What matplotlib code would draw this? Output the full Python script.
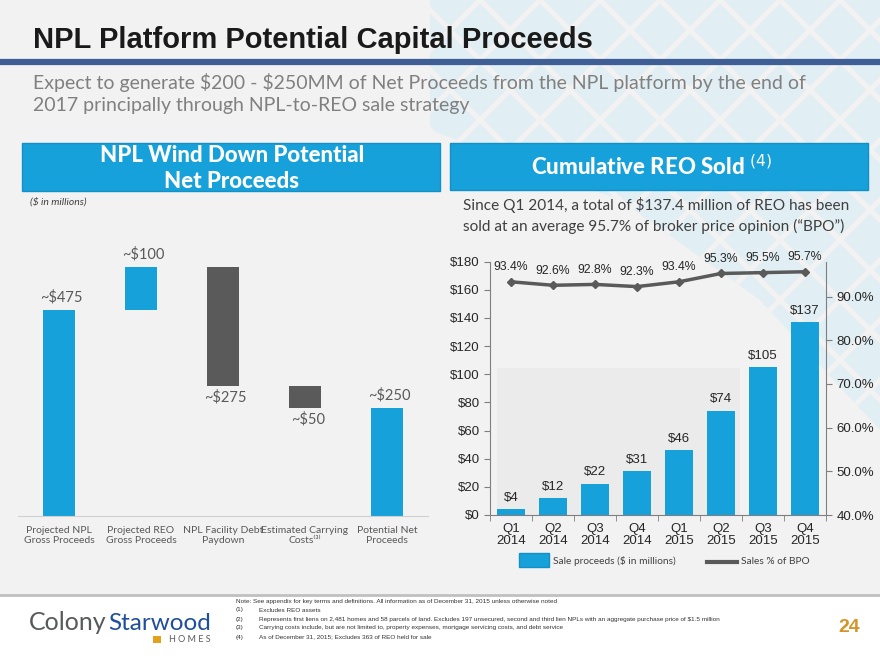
import matplotlib.pyplot as plt
import matplotlib.patches as mpatches
from matplotlib.ticker import FuncFormatter, MultipleLocator
import numpy as np

# ---- data ----
wf_categories = ["Projected NPL\nGross Proceeds", "Projected REO\nGross Proceeds",
                 "NPL Facility Debt\nPaydown", "Estimated Carrying\nCosts\u207d\u00b3\u207e",
                 "Potential Net\nProceeds"]
wf_amounts = [475, 100, -275, -50, 250]
wf_labels = ["~$475", "~$100", "~$275", "~$50", "~$250"]
wf_is_total = [False, False, False, False, True]

quarters = ["Q1\n2014", "Q2\n2014", "Q3\n2014", "Q4\n2014",
            "Q1\n2015", "Q2\n2015", "Q3\n2015", "Q4\n2015"]
reo_sold = [4, 12, 22, 31, 46, 74, 105, 137]
bpo_pct = [93.4, 92.6, 92.8, 92.3, 93.4, 95.3, 95.5, 95.7]

notes = [
    ("", "Note: See appendix for key terms and definitions. All information as of December 31, 2015 unless otherwise noted"),
    ("(1)", "Excludes REO assets"),
    ("(2)", "Represents first liens on 2,481 homes and 58 parcels of land. Excludes 197 unsecured, second and third lien NPLs with an aggregate purchase price of \\$1.5 million"),
    ("(3)", "Carrying costs include, but are not limited to, property expenses, mortgage servicing costs, and debt service"),
    ("(4)", "As of December 31, 2015; Excludes 363 of REO held for sale"),
]

BLUE = "#16a1da"
DARK = "#5a5a5a"
BG = "#f2f2f2"
W, H = 880, 660

fig = plt.figure(figsize=(8.8, 6.6), dpi=100)
fig.patch.set_facecolor(BG)

# background overlay in pixel coordinates
bg = fig.add_axes([0, 0, 1, 1], zorder=0)
bg.set_xlim(0, W)
bg.set_ylim(H, 0)
bg.axis("off")

# faint diamond lattice in the top right
clip = mpatches.Polygon([(430, 0), (880, 0), (880, 430), (760, 300), (620, 200), (430, 130)],
                        closed=True, transform=bg.transData, facecolor="none", edgecolor="none")
bg.add_patch(clip)
fill = mpatches.Polygon(clip.get_xy(), closed=True, facecolor="#e1eef3", edgecolor="none", zorder=0)
bg.add_patch(fill)
for c in np.arange(-900, 1800, 60):
    for sgn in (1, -1):
        ln, = bg.plot([c, c + sgn * 700], [0, 700], color=BG, lw=3.8, zorder=1)
        ln.set_clip_path(clip)

# chart watermark box
bg.add_patch(mpatches.Rectangle((497, 368), 243, 147, facecolor="#ebebeb", edgecolor="none", zorder=1))

# title and rule
bg.text(33, 40, "NPL Platform Potential Capital Proceeds", fontsize=21, fontweight="bold",
        family="Liberation Sans", color="#1a1a1a", va="center", ha="left", zorder=3)
bg.plot([0, W], [62, 62], color="#3f5e95", lw=4.5, zorder=3, solid_capstyle="butt")
bg.text(33, 83, "Expect to generate \\$200 - \\$250MM of Net Proceeds from the NPL platform by the end of",
        fontsize=14, family="Lato", color="#808080", va="center", ha="left", zorder=3)
bg.text(33, 105, "2017 principally through NPL-to-REO sale strategy",
        fontsize=14, family="Lato", color="#808080", va="center", ha="left", zorder=3)

# section headers
bg.add_patch(mpatches.Rectangle((22, 143), 418, 48, facecolor=BLUE, edgecolor="#1390c6", lw=1, zorder=3))
bg.text(232, 156, "NPL Wind Down Potential", fontsize=16, fontweight="black", family="Lato",
        color="white", ha="center", va="center", zorder=4)
bg.text(232, 181, "Net Proceeds", fontsize=16, fontweight="black", family="Lato",
        color="white", ha="center", va="center", zorder=4)
bg.add_patch(mpatches.Rectangle((450, 143), 418, 47, facecolor=BLUE, edgecolor="#1390c6", lw=1, zorder=3))
bg.text(652, 167, "Cumulative REO Sold $^{(4)}$", fontsize=16, fontweight="black", family="Lato",
        color="white", ha="center", va="center", zorder=4)

bg.text(30, 202, "(\\$ in millions)", fontsize=7.5, style="italic", family="Lato",
        color="#404040", ha="left", va="center", zorder=3)
bg.text(463, 205, "Since Q1 2014, a total of \\$137.4 million of REO has been",
        fontsize=11.1, family="Lato", color="#404040", ha="left", va="center", zorder=3)
bg.text(463, 226, "sold at an average 95.7% of broker price opinion (\u201cBPO\u201d)",
        fontsize=11.1, family="Lato", color="#404040", ha="left", va="center", zorder=3)

# legend for the REO chart
bg.add_patch(mpatches.Rectangle((519, 553), 30, 14, facecolor=BLUE, edgecolor="#1390c6", zorder=3))
bg.text(553, 561, "Sale proceeds (\\$ in millions)", fontsize=7.3, family="Lato",
        color="#404040", ha="left", va="center", zorder=3)
bg.plot([707, 737], [562, 562], color=DARK, lw=3, zorder=3)
bg.text(741, 561, "Sales % of BPO", fontsize=7.3, family="Lato",
        color="#404040", ha="left", va="center", zorder=3)

# footer
bg.add_patch(mpatches.Rectangle((0, 595), W, 65, facecolor="white", edgecolor="none", zorder=2))
bg.plot([0, W], [594.5, 594.5], color="#c0c0c0", lw=2, zorder=3)
bg.text(107, 623, "Colony", fontsize=18, family="Lato", color="#58595b",
        ha="right", va="center", zorder=3)
bg.text(108, 623, "Starwood", fontsize=17.5, family="Lato", color="#1f4e9c",
        ha="left", va="center", zorder=3)
bg.add_patch(mpatches.Rectangle((153, 636), 8, 7, facecolor="#e3a21a", edgecolor="none", zorder=3))
bg.text(211, 640, "H O M E S", fontsize=6.5, family="Lato", color="#58595b",
        ha="right", va="center", zorder=3)
note_y = [601, 610, 619, 628, 637]
for (num, txt), y in zip(notes, note_y):
    if num:
        bg.text(236, y, num, fontsize=4.6, family="Liberation Sans", color="#333333",
                ha="left", va="center", zorder=3)
        bg.text(259, y, txt, fontsize=4.6, family="Liberation Sans", color="#333333",
                ha="left", va="center", zorder=3)
    else:
        bg.text(236, y, txt, fontsize=4.6, family="Liberation Sans", color="#333333",
                ha="left", va="center", zorder=3)
bg.text(849, 627, "24", fontsize=14, fontweight="bold", family="Liberation Sans",
        color="#d4942a", ha="center", va="center", zorder=3)

# ---- waterfall ----
ax1 = fig.add_axes([18 / W, 1 - 516 / H, 410 / W, 260 / H], zorder=2)
ax1.patch.set_alpha(0)
x1 = np.arange(len(wf_categories))
running = 0
for i, (amt, lab, tot) in enumerate(zip(wf_amounts, wf_labels, wf_is_total)):
    if tot:
        bottom, height = 0, amt
    elif amt >= 0:
        bottom, height = running, amt
        running += amt
    else:
        bottom, height = running + amt, -amt
        running += amt
    color = BLUE if amt >= 0 else DARK
    ax1.bar(i, height, bottom=bottom, width=0.39, color=color)
    if amt >= 0:
        ax1.annotate(lab, (i, bottom + height), xytext=(2, 4), textcoords="offset points",
                     ha="center", va="bottom", fontsize=10.5, family="Lato", color="#595959")
    else:
        ax1.annotate(lab, (i, bottom), xytext=(2, -3), textcoords="offset points",
                     ha="center", va="top", fontsize=10.5, family="Lato", color="#595959")
ax1.set_xlim(-0.5, len(wf_categories) - 0.5)
ax1.set_ylim(0, 600)
ax1.set_xticks(x1)
ax1.set_xticklabels(wf_categories, fontsize=7.5, family=["Lato", "DejaVu Sans"],
                    color="#595959", linespacing=1.25)
ax1.tick_params(axis="x", length=0, pad=7)
ax1.set_yticks([])
for s in ["top", "right", "left"]:
    ax1.spines[s].set_visible(False)
ax1.spines["bottom"].set_color("#d0d0d0")

# ---- cumulative REO ----
ax2 = fig.add_axes([490 / W, 1 - 515 / H, 336 / W, 253.3 / H], zorder=2)
ax2.patch.set_alpha(0)
x2 = np.arange(len(quarters))
ax2.bar(x2, reo_sold, width=0.67, color=BLUE)
for xi, v in zip(x2, reo_sold):
    ax2.annotate(f"${v}", (xi, v), xytext=(0, 4), textcoords="offset points",
                 ha="center", va="bottom", fontsize=9.5, family="Liberation Sans", color="#262626")
ax2.set_xlim(-0.5, len(quarters) - 0.5)
ax2.set_ylim(0, 180)
ax2.yaxis.set_major_locator(MultipleLocator(20))
ax2.yaxis.set_major_formatter(FuncFormatter(lambda v, p: f"${v:.0f}"))
ax2.set_xticks(x2)
ax2.set_xticklabels(quarters, fontsize=9.5, family="Liberation Sans", color="#262626", linespacing=1.0)
ax2.set_xticks(np.arange(-0.5, len(quarters), 1), minor=True)
ax2.tick_params(axis="x", which="major", length=0, pad=6)
ax2.tick_params(axis="x", which="minor", length=4, color="#7f7f7f")
ax2.tick_params(axis="y", length=4, color="#7f7f7f", labelsize=9.5, labelcolor="#262626")
for lab in ax2.get_yticklabels():
    lab.set_family("Liberation Sans")
ax2.spines["top"].set_visible(False)
ax2.spines["right"].set_visible(False)
for s in ["left", "bottom"]:
    ax2.spines[s].set_color("#7f7f7f")

ax3 = ax2.twinx()
ax3.plot(x2, bpo_pct, color=DARK, lw=2.5, marker="D", markersize=4.5)
for xi, v in zip(x2, bpo_pct):
    ax3.annotate(f"{v:.1f}%", (xi, v), xytext=(0, 6), textcoords="offset points",
                 ha="center", va="bottom", fontsize=8.8, family="Liberation Sans", color="#262626")
ax3.set_ylim(40, 98)
ax3.set_yticks([40, 50, 60, 70, 80, 90])
ax3.yaxis.set_major_formatter(FuncFormatter(lambda v, p: f"{v:.1f}%"))
ax3.tick_params(axis="y", length=4, color="#7f7f7f", labelsize=9.5, labelcolor="#262626")
for lab in ax3.get_yticklabels():
    lab.set_family("Liberation Sans")
ax3.spines["top"].set_visible(False)
ax3.spines["left"].set_visible(False)
ax3.spines["bottom"].set_visible(False)
ax3.spines["right"].set_color("#7f7f7f")

fig.savefig("out.png", dpi=100, facecolor=BG)
